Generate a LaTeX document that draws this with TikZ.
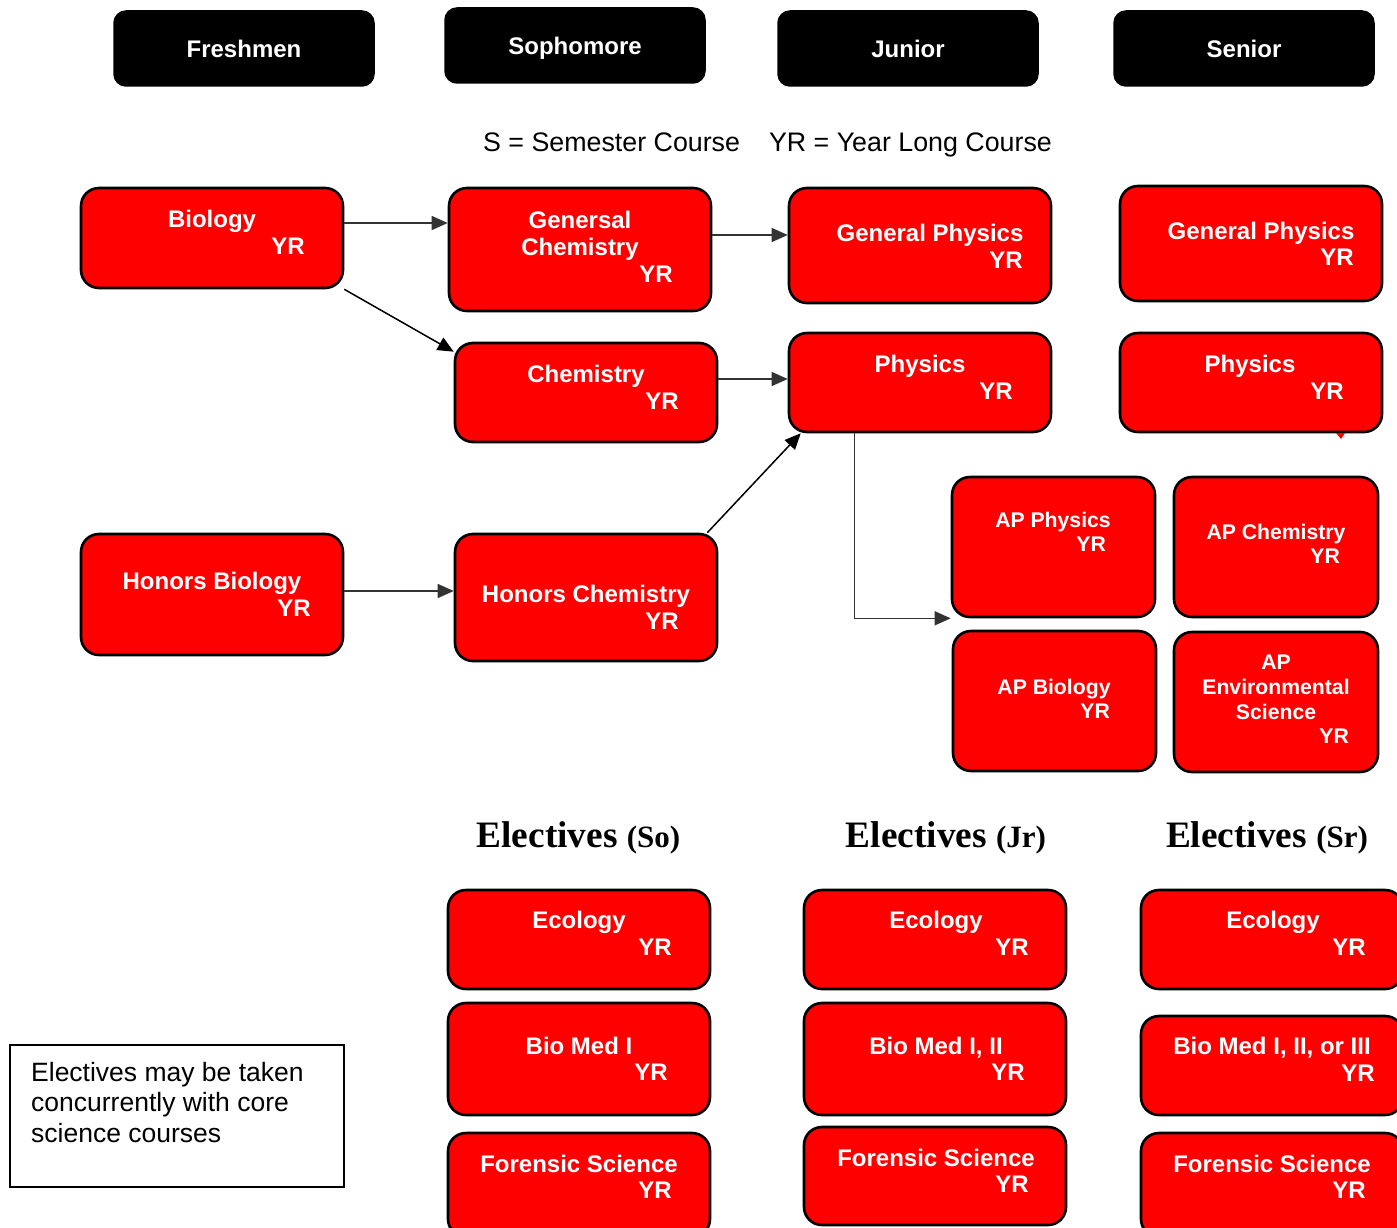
\documentclass[tikz,border=0pt]{standalone}
\usepackage{fontspec}
\setmainfont{Liberation Sans}
\newfontfamily\headserif{Liberation Serif}
\usetikzlibrary{arrows.meta}

\tikzset{
	yearhead/.style={fill=black, draw=black, line width=1.5pt, rounded corners=12pt,
		minimum width=260pt, minimum height=75pt, text=white, text height=17.2pt, text depth=0pt,
		font=\bfseries\fontsize{24}{28}\selectfont},
	course/.style={fill=red, draw=black, line width=2.6pt, rounded corners=18pt, inner sep=0pt},
	ctext/.style={text=white, inner sep=0pt, anchor=base, font=\bfseries\fontsize{24}{27}\selectfont},
	yrtext/.style={ctext, anchor=base east},
	aptext/.style={ctext, font=\bfseries\fontsize{21.2}{25}\selectfont},
	apyr/.style={aptext, anchor=base east},
	arr/.style={-{Triangle[length=16pt, width=14pt]}, line width=1.5pt, draw=black!80},
}

\begin{document}
\begin{tikzpicture}[x=1pt, y=-1pt]
	\useasboundingbox (0,0) rectangle (1397,1228);
	
	%year headings
	\node[yearhead] (fresh) at (244,48.5) {Freshmen};
	\node[yearhead] (soph)  at (575,45.5) {Sophomore};
	\node[yearhead] (jun)   at (908,48.5) {Junior};
	\node[yearhead] (sen)   at (1244,48.5) {Senior};
	
	\node[anchor=base, font=\fontsize{26.8}{30}\selectfont] (key) at (767.5,152)
		{S = Semester Course\hspace{29pt}YR = Year Long Course};
	
	%core courses
	\node[course, minimum width=262pt, minimum height=100pt] (bio)      at (212,238) {};
	\node[course, minimum width=262pt, minimum height=123pt] (genchem)  at (580,249.5) {};
	\node[course, minimum width=262pt, minimum height=115pt] (genphysj) at (920,245.5) {};
	\node[course, minimum width=262pt, minimum height=115pt] (genphyss) at (1251,243.5) {};
	\node[course, minimum width=262pt, minimum height=99pt]  (chem)     at (586,392.5) {};
	\node[course, minimum width=262pt, minimum height=99pt]  (physj)    at (920,382.5) {};
	\node[course, minimum width=262pt, minimum height=99pt]  (physs)    at (1251,382.5) {};
	\node[course, minimum width=262pt, minimum height=121pt] (hbio)     at (212,594.5) {};
	\node[course, minimum width=262pt, minimum height=127pt] (hchem)    at (586,597.5) {};
	\fill[red] (1336,433) -- (1345,433) -- (1341,439) -- cycle;	%tick under physics
	
	%AP courses
	\node[course, minimum width=203pt, minimum height=140pt] (apphys) at (1053.5,547) {};
	\node[course, minimum width=204pt, minimum height=140pt] (apchem) at (1276,547) {};
	\node[course, minimum width=203pt, minimum height=140pt] (apbio)  at (1054.5,701) {};
	\node[course, minimum width=204pt, minimum height=140pt] (apenv)  at (1276,702) {};
	
	%labels
	\node[ctext]  (bio-t)  at (212,227) {Biology};
	\node[yrtext] (bio-yr) at (305,254) {YR};
	\node[ctext]  (genchem-t1) at (580,228) {Genersal};
	\node[ctext]  (genchem-t2) at (580,255) {Chemistry};
	\node[yrtext] (genchem-yr) at (673,282) {YR};
	\node[ctext]  (genphysj-t)  at (930,241) {General Physics};
	\node[yrtext] (genphysj-yr) at (1023,268) {YR};
	\node[ctext]  (genphyss-t)  at (1261,239) {General Physics};
	\node[yrtext] (genphyss-yr) at (1354,265) {YR};
	\node[ctext]  (chem-t)  at (586,382) {Chemistry};
	\node[yrtext] (chem-yr) at (679,409) {YR};
	\node[ctext]  (physj-t)  at (920,372) {Physics};
	\node[yrtext] (physj-yr) at (1013,399) {YR};
	\node[ctext]  (physs-t)  at (1250,372) {Physics};
	\node[yrtext] (physs-yr) at (1344,399) {YR};
	\node[ctext]  (hbio-t)  at (212,589) {Honors Biology};
	\node[yrtext] (hbio-yr) at (311,616) {YR};
	\node[ctext]  (hchem-t)  at (586,602) {Honors Chemistry};
	\node[yrtext] (hchem-yr) at (679,629) {YR};
	%
	\node[aptext] (apphys-t)  at (1053,527.5) {AP Physics};
	\node[apyr]   (apphys-yr) at (1106,551.5) {YR};
	\node[aptext] (apchem-t)  at (1276,539.5) {AP Chemistry};
	\node[apyr]   (apchem-yr) at (1340,563.5) {YR};
	\node[aptext] (apbio-t)   at (1054,694.5) {AP Biology};
	\node[apyr]   (apbio-yr)  at (1110,718.5) {YR};
	\node[aptext] (apenv-t1)  at (1276,669.5) {AP};
	\node[aptext] (apenv-t2)  at (1276,694.5) {Environmental};
	\node[aptext] (apenv-t3)  at (1276,719.5) {Science};
	\node[apyr]   (apenv-yr)  at (1349,743.5) {YR};
	
	%arrows
	\coordinate (a1) at ([yshift=15pt]bio.east);
	\draw[arr] (a1) -- (a1 -| genchem.west);
	\coordinate (a2) at ([yshift=14.5pt]genchem.east);
	\draw[arr] (a2) -- (a2 -| genphysj.west);
	\draw[arr, draw=black] (bio.south east) -- ([yshift=-10pt]chem.north west);
	\coordinate (a3) at ([yshift=13.5pt]chem.east);
	\draw[arr] (a3) -- (a3 -| physj.west);
	\coordinate (a4) at ([yshift=3.5pt]hbio.east);
	\draw[arr] (a4) -- (a4 -| hchem.west);
	\draw[arr, draw=black] ([xshift=-11pt]hchem.north east) -- ([xshift=13pt]physj.south west);
	\draw[arr] ([xshift=67pt]physj.south west) |- (apphys.south west);
	
	%electives
	\node[anchor=base, font=\headserif\bfseries\fontsize{37.3}{40}\selectfont] (elso) at (578.5,847)
		{Electives \fontsize{31}{32}\selectfont(So)};
	\node[anchor=base, font=\headserif\bfseries\fontsize{37.3}{40}\selectfont] (eljr) at (946,847)
		{Electives \fontsize{31}{32}\selectfont(Jr)};
	\node[anchor=base, font=\headserif\bfseries\fontsize{37.3}{40}\selectfont] (elsr) at (1267,847)
		{Electives \fontsize{31}{32}\selectfont(Sr)};
	%
	\node[course, minimum width=262pt, minimum height=99pt]  (ecoso) at (579,939.5) {};
	\node[course, minimum width=262pt, minimum height=112pt] (bmso)  at (579,1059) {};
	\node[course, minimum width=262pt, minimum height=104pt] (forso) at (579,1185) {};
	\node[course, minimum width=262pt, minimum height=99pt]  (ecojr) at (935,939.5) {};
	\node[course, minimum width=262pt, minimum height=112pt] (bmjr)  at (935,1059) {};
	\node[course, minimum width=262pt, minimum height=98pt]  (forjr) at (935,1176) {};
	\node[course, minimum width=262pt, minimum height=99pt]  (ecosr) at (1272,939.5) {};
	\node[course, minimum width=262pt, minimum height=99pt]  (bmsr)  at (1272,1065.5) {};
	\node[course, minimum width=262pt, minimum height=104pt] (forsr) at (1272,1185) {};
	%
	\node[ctext]  (ecoso-t)  at (579,928) {Ecology};
	\node[yrtext] (ecoso-yr) at (672,955) {YR};
	\node[ctext]  (bmso-t)   at (579,1054) {Bio Med I};
	\node[yrtext] (bmso-yr)  at (668,1080) {YR};
	\node[ctext]  (forso-t)  at (579,1172) {Forensic Science};
	\node[yrtext] (forso-yr) at (672,1198) {YR};
	\node[ctext]  (ecojr-t)  at (936,928) {Ecology};
	\node[yrtext] (ecojr-yr) at (1029,955) {YR};
	\node[ctext]  (bmjr-t)   at (936,1054) {Bio Med I, II};
	\node[yrtext] (bmjr-yr)  at (1025,1080) {YR};
	\node[ctext]  (forjr-t)  at (936,1166) {Forensic Science};
	\node[yrtext] (forjr-yr) at (1029,1192) {YR};
	\node[ctext]  (ecosr-t)  at (1273,928) {Ecology};
	\node[yrtext] (ecosr-yr) at (1366,955) {YR};
	\node[ctext]  (bmsr-t)   at (1272,1054) {Bio Med I, II, or III};
	\node[yrtext] (bmsr-yr)  at (1375,1081) {YR};
	\node[ctext]  (forsr-t)  at (1272,1172) {Forensic Science};
	\node[yrtext] (forsr-yr) at (1366,1198) {YR};
	
	%note
	\node[draw=black, line width=1.8pt, minimum width=334pt, minimum height=142pt] (note) at (177,1116) {};
	\node[anchor=north west, align=left, inner sep=0pt, font=\fontsize{26.5}{30.5}\selectfont]
		(note-t) at (31,1062) {Electives may be taken\\concurrently with core\\science courses};
	%\draw[help lines, step=50] (0,0) grid (1397,1228);
\end{tikzpicture}
\end{document}
